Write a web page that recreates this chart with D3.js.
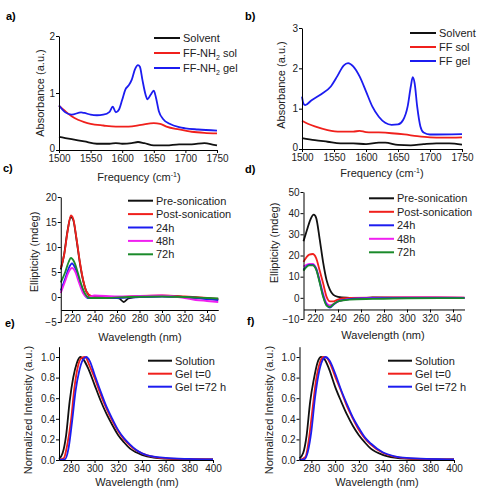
<!DOCTYPE html>
<html>
<head>
<meta charset="utf-8">
<script src="https://cdn.jsdelivr.net/npm/d3@7"></script>
<style>
  body { margin: 0; background: #fff; }
  svg { font-family: "Liberation Sans", Arial, sans-serif; }
  .tick text { font-size: 10px; fill: #222; }
  .domain, .tick line { stroke: #000; stroke-width: 1; }
</style>
</head>
<body>
<div id="chart"></div>
<script>
// ---- a) FTIR FF-NH2 : [frequency, absorbance]
const aSolvent = [[1500,0.23],[1510,0.21],[1520,0.19],[1540,0.15],[1560,0.11],[1580,0.11],[1590,0.12],[1600,0.11],[1615,0.12],[1625,0.14],[1635,0.12],[1650,0.08],[1670,0.08],[1690,0.10],[1710,0.10],[1730,0.12],[1745,0.09],[1750,0.08]];
const aSol = [[1500,0.78],[1510,0.68],[1520,0.59],[1530,0.53],[1540,0.49],[1550,0.46],[1570,0.43],[1590,0.41],[1610,0.41],[1630,0.44],[1650,0.47],[1660,0.46],[1670,0.41],[1690,0.36],[1710,0.32],[1730,0.30],[1750,0.29]];
const aGel = [[1500,0.78],[1510,0.66],[1520,0.62],[1535,0.66],[1540,0.65],[1550,0.62],[1560,0.61],[1570,0.62],[1580,0.67],[1585,0.76],[1590,0.66],[1595,0.71],[1600,0.88],[1605,1.06],[1610,1.13],[1615,1.23],[1620,1.41],[1625,1.49],[1628,1.46],[1632,1.23],[1637,0.97],[1640,0.89],[1645,0.97],[1650,1.04],[1653,0.94],[1658,0.68],[1665,0.54],[1675,0.46],[1690,0.40],[1700,0.38],[1720,0.36],[1750,0.34]];

// ---- b) FTIR FF
const bSolvent = [[1500,0.27],[1520,0.22],[1540,0.18],[1560,0.14],[1580,0.14],[1600,0.12],[1620,0.16],[1630,0.16],[1650,0.10],[1670,0.09],[1690,0.12],[1710,0.14],[1730,0.14],[1750,0.11]];
const bSol = [[1500,0.70],[1510,0.62],[1520,0.56],[1540,0.47],[1560,0.43],[1580,0.43],[1590,0.45],[1600,0.42],[1620,0.41],[1640,0.39],[1660,0.36],[1680,0.32],[1700,0.29],[1720,0.28],[1750,0.29]];
const bGel = [[1500,1.30],[1502,1.14],[1505,1.09],[1515,1.21],[1530,1.36],[1545,1.55],[1555,1.80],[1565,2.07],[1572,2.13],[1580,2.05],[1590,1.80],[1600,1.43],[1610,1.05],[1620,0.80],[1630,0.65],[1640,0.60],[1650,0.61],[1658,0.72],[1665,1.05],[1670,1.55],[1673,1.78],[1676,1.63],[1680,1.05],[1685,0.56],[1690,0.41],[1700,0.36],[1750,0.37]];

// ---- c) CD FF-NH2 : [wavelength, ellipticity]
const cPre = [[210,5.5],[213,8.5],[216,13.2],[219,16.0],[221,15.5],[224,11.5],[227,6.8],[230,3.2],[233,1.0],[237,0.1],[245,-0.2],[255,-0.1],[262,-0.3],[266,-1.0],[270,-0.3],[280,0.1],[300,0.2],[320,0],[340,-0.3],[350,-0.5]];
const cPost = [[210,5.8],[213,8.4],[216,13],[219,16.3],[221,15.7],[224,11.7],[227,7],[230,3.3],[233,1],[237,0.2],[245,0],[260,0],[280,0.2],[300,0.3],[320,0.1],[340,-0.2],[350,-0.4]];
const c24h = [[210,1.3],[214,3.7],[217,5.7],[220,6.7],[223,5.7],[226,3.7],[230,1],[234,-0.2],[245,-0.1],[260,-0.2],[280,0],[300,0.1],[320,0],[340,-0.4],[350,-0.6]];
const c48h = [[210,0.8],[214,3.2],[217,5],[220,5.8],[223,5],[226,3],[230,0.7],[234,0],[240,0.3],[260,0.1],[280,0.2],[300,0.3],[320,-0.2],[330,-0.6],[340,-0.8],[350,-1.0]];
const c72h = [[210,2.9],[214,5],[217,7],[219,7.8],[222,7],[225,5],[228,2.7],[232,0.5],[236,-0.2],[250,-0.2],[270,0],[300,0.1],[320,0],[340,-0.2],[350,-0.3]];

// ---- d) CD FF
const dPre = [[210,26.7],[213,32],[216,37],[219,39.3],[221,37.8],[224,28],[227,17],[230,8.5],[233,3.8],[236,1.4],[240,0.5],[250,0],[260,-0.3],[270,0.2],[300,0.1],[350,0]];
const dPost = [[210,17],[215,20.4],[218,20.7],[221,18.8],[224,13],[227,7],[230,0.6],[233,-1.7],[236,-1.7],[240,-0.8],[245,-0.2],[250,0],[300,0.2],[350,0.1]];
const d24h = [[210,13.3],[215,15.6],[218,15.6],[221,13.7],[224,7.7],[227,1.1],[230,-3.3],[233,-4.6],[236,-3.3],[240,-1.7],[245,-1],[250,-0.6],[260,-0.3],[300,0],[350,0]];
const d48h = [[210,14.8],[215,16],[218,16],[221,14],[224,8.5],[227,2.2],[230,-2.5],[233,-3.6],[236,-3],[240,-1.7],[245,-1],[250,-0.5],[270,0],[300,0.2],[350,0.1]];
const d72h = [[210,12.8],[215,15.3],[218,15.3],[221,13.3],[224,7.4],[227,0.6],[230,-3.6],[233,-4.3],[236,-3],[240,-1.7],[250,-0.8],[270,-0.5],[300,-0.2],[350,-0.1]];

// ---- e) fluorescence FF-NH2 : [wavelength, normalized intensity]
const eSolution = [[270,0.01],[273,0.065],[276,0.24],[279,0.57],[282,0.80],[285,0.94],[288,1.0],[291,0.97],[295,0.88],[300,0.73],[305,0.58],[310,0.45],[315,0.34],[320,0.24],[325,0.17],[330,0.11],[335,0.075],[340,0.05],[350,0.023],[360,0.013],[380,0.006],[400,0.005]];
const eGel0 = [[270,0],[274,0.016],[277,0.15],[280,0.37],[283,0.70],[286,0.91],[289,0.99],[292,1.0],[296,0.91],[300,0.80],[305,0.64],[310,0.50],[315,0.38],[320,0.28],[325,0.20],[330,0.14],[335,0.094],[340,0.065],[350,0.03],[360,0.016],[380,0.01],[400,0.005]];
const eGel72 = [[270,0],[275,0.006],[278,0.11],[281,0.37],[284,0.67],[287,0.86],[290,0.97],[293,1.0],[296,0.96],[300,0.83],[305,0.67],[310,0.52],[315,0.40],[320,0.29],[325,0.21],[330,0.15],[335,0.10],[340,0.065],[350,0.032],[360,0.02],[380,0.01],[400,0.005]];

// ---- f) fluorescence FF
const fSolution = [[270,0.016],[273,0.065],[276,0.24],[279,0.57],[282,0.78],[285,0.94],[288,1.0],[291,0.98],[295,0.88],[300,0.71],[305,0.57],[310,0.44],[315,0.33],[320,0.24],[325,0.17],[330,0.11],[340,0.05],[350,0.023],[360,0.013],[400,0.005]];
const fGel0 = [[270,0],[275,0.03],[278,0.21],[281,0.50],[284,0.78],[287,0.94],[290,1.0],[293,0.99],[296,0.93],[300,0.81],[305,0.67],[310,0.52],[315,0.40],[320,0.29],[325,0.21],[330,0.15],[340,0.07],[350,0.032],[360,0.016],[400,0.005]];
const fGel72 = [[270,0],[274,0.006],[277,0.08],[280,0.28],[283,0.60],[286,0.83],[289,0.96],[292,1.0],[295,0.97],[300,0.84],[305,0.68],[310,0.54],[315,0.41],[320,0.31],[325,0.22],[330,0.16],[340,0.075],[350,0.036],[360,0.02],[400,0.005]];

const irTicks = [1500, 1550, 1600, 1650, 1700, 1750];
const cdTicks = [220, 240, 260, 280, 300, 320, 340];
const flTicks = [280, 300, 320, 340, 360, 380, 400];

const BLACK = '#111', RED = '#f0201c', BLUE = '#1c1cf0', MAGENTA = '#f020f0', GREEN = '#1a8a2a';

const svg = d3.select('#chart').append('svg')
  .attr('width', 479).attr('height', 493);
svg.append('rect').attr('width', 479).attr('height', 493).attr('fill', '#fff');

function drawPanel(p) {
  const g = svg.append('g');
  const x = d3.scaleLinear().domain(p.xDomain).range([p.left, p.right]);
  const y = d3.scaleLinear().domain(p.yDomain).range([p.bottom, p.top]);

  const line = d3.line()
    .x(d => x(d[0])).y(d => y(d[1]))
    .curve(d3.curveMonotoneX);

  p.series.forEach(s => {
    g.append('path')
      .datum(s.data)
      .attr('d', line)
      .attr('fill', 'none')
      .attr('stroke', s.color)
      .attr('stroke-width', 1.8)
      .attr('stroke-linejoin', 'round');
  });

  // x axis may sit above the lowest y tick (Origin style)
  const xAxisY = p.xAxisAt !== undefined ? y(p.xAxisAt) : p.bottom;
  g.append('g')
    .attr('transform', `translate(0,${xAxisY})`)
    .call(d3.axisBottom(x).tickValues(p.xTicks).tickSizeInner(3).tickSizeOuter(0).tickPadding(2).tickFormat(d3.format('d')));

  const yAxis = g.append('g')
    .attr('transform', `translate(${p.left},0)`)
    .call(d3.axisLeft(y).tickValues(p.yTicks).tickSizeInner(3).tickSizeOuter(0).tickPadding(1).tickFormat(p.yFormat || d3.format('d')));
  // lift the corner "0" a touch so it clears the first x label
  if (p.liftZero) {
    yAxis.selectAll('.tick').filter(d => d === p.yDomain[0]).select('text').attr('dy', '0.1em');
  }

  // axis titles
  const xt = g.append('text')
    .attr('x', p.xTitlePos[0]).attr('y', p.xTitlePos[1])
    .attr('text-anchor', 'middle')
    .attr('font-size', 11).attr('fill', '#222');
  xt.append('tspan').text(p.xTitle);
  if (p.xTitleSup) {
    xt.append('tspan').attr('font-size', 7).attr('dy', -4).text(p.xTitleSup);
    xt.append('tspan').attr('dy', 4).text(')');
  }

  g.append('text')
    .attr('transform', `translate(${p.yTitlePos[0]},${p.yTitlePos[1]}) rotate(-90)`)
    .attr('text-anchor', 'middle')
    .attr('font-size', 11).attr('fill', '#222')
    .text(p.yTitle);

  // panel letter
  g.append('text')
    .attr('x', p.labelPos[0]).attr('y', p.labelPos[1])
    .attr('font-size', 11).attr('font-weight', 'bold')
    .text(p.label);

  // legend
  p.series.slice().sort((a, b) => a.order - b.order).forEach((s, i) => {
    const ly = p.legend.y + i * p.legend.step;
    g.append('line')
      .attr('x1', p.legend.x).attr('x2', p.legend.x + p.legend.len)
      .attr('y1', ly).attr('y2', ly)
      .attr('stroke', s.color).attr('stroke-width', 2);
    const t = g.append('text')
      .attr('x', p.legend.x + p.legend.len + 3).attr('y', ly + 4)
      .attr('font-size', 11).attr('fill', '#222');
    if (s.sub) {
      t.append('tspan').text(s.name);
      t.append('tspan').attr('font-size', 7).attr('dy', 3).text(s.sub);
      t.append('tspan').attr('dy', -3).text(s.rest);
    } else {
      t.text(s.name);
    }
  });
}

drawPanel({
  label: 'a)', labelPos: [6, 20],
  xDomain: [1500, 1750], yDomain: [0, 2], liftZero: true,
  left: 59, right: 217, top: 36, bottom: 150,
  xTicks: irTicks, yTicks: [0, 1, 2],
  xTitle: 'Frequency (cm', xTitleSup: '-1', xTitlePos: [139, 181],
  yTitle: 'Absorbance (a.u.)', yTitlePos: [44, 93],
  legend: { x: 154, y: 38, step: 15, len: 26 },
  series: [
    { data: aSolvent, color: BLACK, name: 'Solvent', order: 0 },
    { data: aSol, color: RED, name: 'FF-NH', sub: '2', rest: ' sol', order: 1 },
    { data: aGel, color: BLUE, name: 'FF-NH', sub: '2', rest: ' gel', order: 2 }
  ]
});

drawPanel({
  label: 'b)', labelPos: [245, 20],
  xDomain: [1500, 1750], yDomain: [0, 3], liftZero: true,
  left: 302, right: 462, top: 28, bottom: 149,
  xTicks: irTicks, yTicks: [0, 1, 2, 3],
  xTitle: 'Frequency (cm', xTitleSup: '-1', xTitlePos: [382, 177],
  yTitle: 'Absorbance (a.u.)', yTitlePos: [285, 85],
  legend: { x: 410, y: 33, step: 14, len: 26 },
  series: [
    { data: bSolvent, color: BLACK, name: 'Solvent', order: 0 },
    { data: bSol, color: RED, name: 'FF sol', order: 1 },
    { data: bGel, color: BLUE, name: 'FF gel', order: 2 }
  ]
});

drawPanel({
  label: 'c)', labelPos: [3, 172],
  xDomain: [210, 350], yDomain: [-5, 20], xAxisAt: -2.6,
  left: 60.75, right: 218.25, top: 197, bottom: 322,
  xTicks: cdTicks, yTicks: [-5, 0, 5, 10, 15, 20],
  xTitle: 'Wavelength (nm)', xTitlePos: [140, 341],
  yTitle: 'Ellipticity (mdeg)', yTitlePos: [38, 252],
  legend: { x: 128, y: 200.7, step: 13.4, len: 25 },
  series: [
    { data: cPre, color: BLACK, name: 'Pre-sonication', order: 0 },
    { data: cPost, color: RED, name: 'Post-sonication', order: 1 },
    { data: c24h, color: BLUE, name: '24h', order: 2 },
    { data: c48h, color: MAGENTA, name: '48h', order: 3 },
    { data: c72h, color: GREEN, name: '72h', order: 4 }
  ]
});

drawPanel({
  label: 'd)', labelPos: [245, 173],
  xDomain: [210, 350], yDomain: [-10, 50], xAxisAt: -5.5,
  left: 303.5, right: 464.5, top: 192, bottom: 319,
  xTicks: cdTicks, yTicks: [-10, 0, 10, 20, 30, 40, 50],
  xTitle: 'Wavelength (nm)', xTitlePos: [383, 339],
  yTitle: 'Ellipticity (mdeg)', yTitlePos: [278, 243],
  legend: { x: 369, y: 198.3, step: 13.5, len: 25 },
  series: [
    { data: dPre, color: BLACK, name: 'Pre-sonication', order: 0 },
    { data: dPost, color: RED, name: 'Post-sonication', order: 1 },
    { data: d48h, color: MAGENTA, name: '48h', order: 3 },
    { data: d24h, color: BLUE, name: '24h', order: 2 },
    { data: d72h, color: GREEN, name: '72h', order: 4 }
  ]
});

drawPanel({
  label: 'e)', labelPos: [5, 327],
  xDomain: [270, 400], yDomain: [0, 1.1],
  left: 59, right: 213, top: 346.7, bottom: 460,
  xTicks: flTicks, yTicks: [0, 0.2, 0.4, 0.6, 0.8, 1.0], yFormat: d3.format('.1f'),
  xTitle: 'Wavelength (nm)', xTitlePos: [137, 486],
  yTitle: 'Normalized Intensity (a.u.)', yTitlePos: [32, 410],
  legend: { x: 148, y: 360.7, step: 13, len: 24 },
  series: [
    { data: eSolution, color: BLACK, name: 'Solution', order: 0 },
    { data: eGel0, color: RED, name: 'Gel t=0', order: 1 },
    { data: eGel72, color: BLUE, name: 'Gel t=72 h', order: 2 }
  ]
});

drawPanel({
  label: 'f)', labelPos: [247, 325],
  xDomain: [270, 400], yDomain: [0, 1.1],
  left: 299.5, right: 454, top: 346.7, bottom: 460,
  xTicks: flTicks, yTicks: [0, 0.2, 0.4, 0.6, 0.8, 1.0], yFormat: d3.format('.1f'),
  xTitle: 'Wavelength (nm)', xTitlePos: [377, 486],
  yTitle: 'Normalized Intensity (a.u.)', yTitlePos: [273, 410],
  legend: { x: 388, y: 360.7, step: 13, len: 24 },
  series: [
    { data: fSolution, color: BLACK, name: 'Solution', order: 0 },
    { data: fGel0, color: RED, name: 'Gel t=0', order: 1 },
    { data: fGel72, color: BLUE, name: 'Gel t=72 h', order: 2 }
  ]
});
</script>
</body>
</html>
